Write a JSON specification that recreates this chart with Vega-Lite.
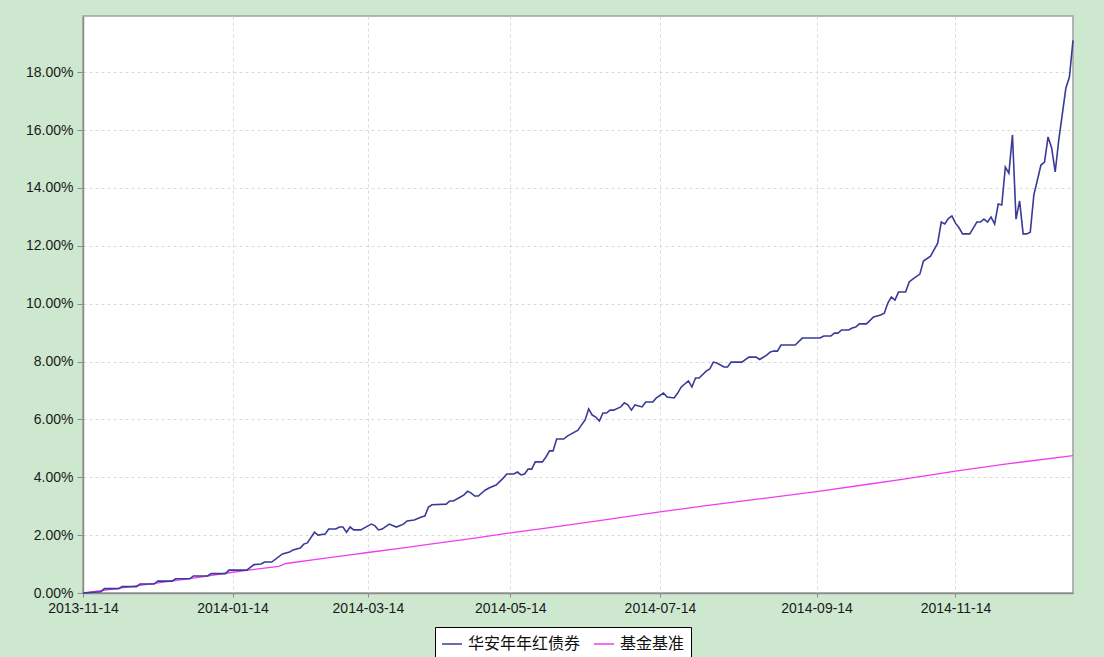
{
  "$schema": "https://vega.github.io/schema/vega-lite/v6.json",
  "width": 990,
  "height": 577,
  "autosize": {"type": "none"},
  "padding": {"left": 83, "top": 16, "right": 31, "bottom": 64},
  "background": "#CDE8CF",
  "config": {
    "view": {"fill": "#FFFFFF", "stroke": "#A0A0A0", "strokeWidth": 1.5},
    "font": "Liberation Sans",
    "axis": {
      "labelFont": "Liberation Sans",
      "labelFontSize": 14,
      "labelColor": "#1A1A1A",
      "domainColor": "#8C8C8C",
      "domainWidth": 1.5,
      "tickColor": "#8C8C8C",
      "gridColor": "#DADADA",
      "gridDash": [3, 3],
      "gridWidth": 1
    }
  },
  "datasets": {
    "fund": [
      {"t":0,"v":0},{"t":5,"v":0.04},{"t":6,"v":0.15},{"t":10,"v":0.15},{"t":11,"v":0.22},{"t":15,"v":0.22},{"t":16,"v":0.31},{"t":20,"v":0.31},{"t":21,"v":0.41},{"t":25,"v":0.41},{"t":26,"v":0.49},{"t":30,"v":0.49},{"t":31,"v":0.59},{"t":35,"v":0.59},{"t":36,"v":0.67},{"t":40,"v":0.67},{"t":41,"v":0.79},{"t":46,"v":0.79},{"t":48,"v":0.98},{"t":50,"v":1.00},{"t":51,"v":1.07},{"t":53,"v":1.07},{"t":56,"v":1.35},{"t":58,"v":1.42},{"t":59,"v":1.49},{"t":61,"v":1.55},{"t":62,"v":1.69},{"t":63,"v":1.73},{"t":65,"v":2.10},{"t":66,"v":2.00},{"t":68,"v":2.04},{"t":69,"v":2.21},{"t":71,"v":2.21},{"t":72,"v":2.28},{"t":73,"v":2.28},{"t":74,"v":2.10},{"t":75,"v":2.28},{"t":76,"v":2.18},{"t":78,"v":2.18},{"t":80,"v":2.32},{"t":81,"v":2.38},{"t":82,"v":2.32},{"t":83,"v":2.18},{"t":84,"v":2.21},{"t":86,"v":2.38},{"t":88,"v":2.28},{"t":90,"v":2.38},{"t":91,"v":2.49},{"t":93,"v":2.52},{"t":95,"v":2.63},{"t":96,"v":2.66},{"t":97,"v":2.97},{"t":98,"v":3.05},{"t":102,"v":3.07},{"t":103,"v":3.18},{"t":104,"v":3.18},{"t":106,"v":3.32},{"t":107,"v":3.39},{"t":108,"v":3.52},{"t":109,"v":3.45},{"t":110,"v":3.35},{"t":111,"v":3.35},{"t":113,"v":3.56},{"t":114,"v":3.63},{"t":116,"v":3.73},{"t":118,"v":3.97},{"t":119,"v":4.11},{"t":121,"v":4.11},{"t":122,"v":4.18},{"t":123,"v":4.08},{"t":124,"v":4.11},{"t":125,"v":4.28},{"t":126,"v":4.28},{"t":127,"v":4.53},{"t":129,"v":4.53},{"t":130,"v":4.70},{"t":131,"v":4.91},{"t":132,"v":4.91},{"t":133,"v":5.32},{"t":135,"v":5.32},{"t":136,"v":5.42},{"t":139,"v":5.63},{"t":140,"v":5.81},{"t":141,"v":5.98},{"t":142,"v":6.36},{"t":143,"v":6.15},{"t":144,"v":6.08},{"t":145,"v":5.94},{"t":146,"v":6.22},{"t":147,"v":6.22},{"t":148,"v":6.32},{"t":149,"v":6.32},{"t":151,"v":6.43},{"t":152,"v":6.57},{"t":153,"v":6.50},{"t":154,"v":6.32},{"t":155,"v":6.50},{"t":157,"v":6.43},{"t":158,"v":6.60},{"t":160,"v":6.60},{"t":161,"v":6.74},{"t":163,"v":6.91},{"t":164,"v":6.77},{"t":166,"v":6.74},{"t":167,"v":6.91},{"t":168,"v":7.12},{"t":170,"v":7.33},{"t":171,"v":7.12},{"t":172,"v":7.43},{"t":173,"v":7.43},{"t":175,"v":7.67},{"t":176,"v":7.74},{"t":177,"v":7.98},{"t":178,"v":7.95},{"t":180,"v":7.81},{"t":181,"v":7.81},{"t":182,"v":7.98},{"t":185,"v":7.98},{"t":187,"v":8.15},{"t":189,"v":8.15},{"t":190,"v":8.07},{"t":192,"v":8.22},{"t":193,"v":8.33},{"t":194,"v":8.36},{"t":195,"v":8.36},{"t":196,"v":8.57},{"t":200,"v":8.57},{"t":202,"v":8.81},{"t":207,"v":8.81},{"t":208,"v":8.88},{"t":210,"v":8.88},{"t":211,"v":8.98},{"t":212,"v":8.98},{"t":213,"v":9.09},{"t":215,"v":9.09},{"t":216,"v":9.16},{"t":217,"v":9.19},{"t":218,"v":9.30},{"t":220,"v":9.30},{"t":222,"v":9.54},{"t":224,"v":9.61},{"t":225,"v":9.67},{"t":226,"v":10.02},{"t":227,"v":10.23},{"t":228,"v":10.12},{"t":229,"v":10.40},{"t":231,"v":10.40},{"t":232,"v":10.75},{"t":233,"v":10.85},{"t":235,"v":11.02},{"t":236,"v":11.47},{"t":238,"v":11.64},{"t":240,"v":12.09},{"t":241,"v":12.82},{"t":242,"v":12.75},{"t":243,"v":12.94},{"t":244,"v":13.03},{"t":245,"v":12.78},{"t":246,"v":12.62},{"t":247,"v":12.41},{"t":249,"v":12.41},{"t":250,"v":12.61},{"t":251,"v":12.82},{"t":252,"v":12.82},{"t":253,"v":12.92},{"t":254,"v":12.82},{"t":255,"v":12.99},{"t":256,"v":12.75},{"t":257,"v":13.44},{"t":258,"v":13.41},{"t":259,"v":14.72},{"t":260,"v":14.51},{"t":261,"v":15.83},{"t":262,"v":12.92},{"t":263,"v":13.55},{"t":264,"v":12.41},{"t":265,"v":12.41},{"t":266,"v":12.47},{"t":267,"v":13.75},{"t":269,"v":14.79},{"t":270,"v":14.89},{"t":271,"v":15.76},{"t":272,"v":15.38},{"t":273,"v":14.55},{"t":274,"v":15.65},{"t":276,"v":17.45},{"t":277,"v":17.83},{"t":278,"v":19.10}
    ],
    "bench": [
      {"t":0,"v":0},{"t":10,"v":0.16},{"t":20,"v":0.33},{"t":30,"v":0.50},{"t":41,"v":0.70},{"t":47,"v":0.80},{"t":55,"v":0.92},{"t":57,"v":1.02},{"t":65,"v":1.15},{"t":75,"v":1.32},{"t":80,"v":1.40},{"t":90,"v":1.56},{"t":97,"v":1.68},{"t":110,"v":1.90},{"t":120,"v":2.08},{"t":130,"v":2.24},{"t":145,"v":2.50},{"t":162,"v":2.80},{"t":175,"v":3.02},{"t":190,"v":3.25},{"t":206,"v":3.50},{"t":220,"v":3.75},{"t":230,"v":3.93},{"t":245,"v":4.21},{"t":260,"v":4.47},{"t":278,"v":4.75}
    ]
  },
  "encoding": {
    "x": {
      "field": "t",
      "type": "quantitative",
      "scale": {"domain": [0, 278], "nice": false, "zero": false},
      "axis": {
        "title": null,
        "values": [0, 42, 80, 120, 162, 206, 245],
        "labelExpr": "datum.value == 0 ? '2013-11-14' : datum.value == 42 ? '2014-01-14' : datum.value == 80 ? '2014-03-14' : datum.value == 120 ? '2014-05-14' : datum.value == 162 ? '2014-07-14' : datum.value == 206 ? '2014-09-14' : '2014-11-14'",
        "tickSize": 4,
        "labelPadding": 4,
        "labelOverlap": false,
        "labelFlush": false
      }
    },
    "y": {
      "field": "v",
      "type": "quantitative",
      "scale": {"domain": [0, 19.94], "nice": false},
      "axis": {
        "title": null,
        "values": [0, 2, 4, 6, 8, 10, 12, 14, 16, 18],
        "format": ".2f",
        "labelExpr": "datum.label + '%'",
        "tickSize": 6,
        "labelPadding": 4
      }
    }
  },
  "layer": [
    {
      "data": {"name": "bench"},
      "mark": {"type": "line", "strokeWidth": 1.3},
      "encoding": {
        "color": {
          "datum": "基金基准",
          "scale": {"domain": ["华安年年红债券", "基金基准"], "range": ["#3A3A98", "#F03CF0"]},
          "legend": {
            "orient": "none",
            "legendX": 352,
            "legendY": 611,
            "direction": "horizontal",
            "title": null,
            "symbolType": "stroke",
            "symbolSize": 400,
            "symbolStrokeWidth": 1.5,
            "labelFont": "Noto Sans CJK SC",
            "labelFontSize": 16,
            "labelColor": "#111111",
            "labelOffset": 5,
            "columnPadding": 10,
            "strokeColor": "#000000",
            "fillColor": "#FFFFFF",
            "padding": 6
          }
        }
      }
    },
    {
      "data": {"name": "fund"},
      "mark": {"type": "line", "strokeWidth": 1.6},
      "encoding": {
        "color": {"datum": "华安年年红债券"}
      }
    }
  ]
}
